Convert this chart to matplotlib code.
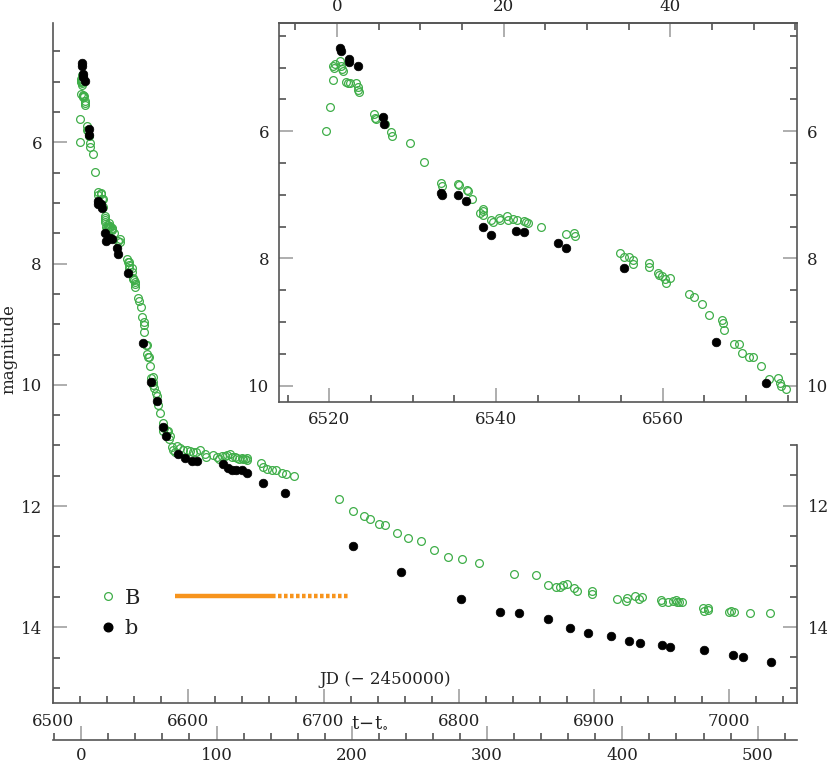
import matplotlib
matplotlib.use("Agg")
import matplotlib.pyplot as plt
from matplotlib.ticker import MultipleLocator
from matplotlib.lines import Line2D

plt.rcParams['font.family'] = ['DejaVu Serif']
plt.rcParams['mathtext.fontset'] = 'dejavuserif'

# ---------------- data ----------------
t0 = 6520.9  # JD - 2450000 of t_0

B_jd = [6519.6, 6520.1, 6520.4, 6520.5, 6520.6, 6520.7, 6521.3, 6521.4, 6521.5, 6521.6,
        6522.0, 6522.3, 6522.5, 6523.2, 6523.4, 6523.5, 6523.6, 6525.4, 6525.5, 6525.6,
        6526.7, 6527.4, 6527.5, 6529.7, 6531.4, 6533.4, 6533.5, 6535.4, 6535.5, 6536.5,
        6536.6, 6537.1, 6538.1, 6538.4, 6538.4, 6538.4, 6539.4, 6539.6, 6540.4, 6540.5,
        6541.3, 6541.4, 6542.0, 6542.5, 6543.4, 6543.6, 6543.8, 6545.4, 6548.4, 6549.4,
        6549.5, 6554.9, 6555.4, 6555.9, 6556.4, 6556.4, 6558.4, 6558.4, 6559.4, 6559.5,
        6559.9, 6560.3, 6560.4, 6560.9, 6563.1, 6563.7, 6564.7, 6565.6, 6567.1, 6567.2,
        6567.4, 6568.6, 6569.2, 6569.5, 6570.4, 6570.8, 6571.8, 6572.8, 6573.8, 6574.1,
        6574.2, 6574.8, 6576.1, 6576.6, 6577.8, 6579.1, 6581.1, 6581.6, 6582.1, 6584.1,
        6585.2, 6586.0, 6586.5, 6587.7, 6588.9, 6590.2, 6591.9, 6593.9, 6596.3, 6598.8,
        6601.2, 6603.2, 6605.7, 6608.7, 6612.4, 6613.1, 6618.5, 6621.5, 6623.0, 6624.7,
        6627.1, 6628.9, 6630.9, 6632.1, 6634.5, 6635.8, 6637.7, 6639.5, 6640.7, 6641.9,
        6643.2, 6643.7, 6653.5, 6655.0, 6658.0, 6661.7, 6664.9, 6669.1, 6672.0, 6678.4,
        6711.2, 6722.0, 6730.1, 6734.3, 6741.2, 6745.4, 6754.1, 6762.2, 6772.0, 6781.9,
        6792.2, 6802.1, 6815.1, 6841.0, 6857.1, 6866.2, 6871.8, 6874.8, 6877.3, 6880.2,
        6885.2, 6887.4, 6898.2, 6898.2, 6917.2, 6923.3, 6924.1, 6930.2, 6933.2, 6935.2,
        6949.2, 6950.4, 6954.9, 6958.6, 6960.3, 6961.5, 6963.0, 6964.8, 6980.3, 6981.3,
        6984.0, 6984.4, 7000.0, 7001.2, 7003.4, 7015.3, 7030.1]
B_mag = [5.99, 5.62, 5.20, 4.98, 5.01, 4.95, 4.89, 4.98, 5.02, 5.06,
         5.22, 5.24, 5.25, 5.24, 5.31, 5.35, 5.38, 5.73, 5.79, 5.81,
         5.89, 6.01, 6.07, 6.19, 6.49, 6.82, 6.86, 6.83, 6.85, 6.93,
         6.94, 7.07, 7.28, 7.22, 7.25, 7.31, 7.39, 7.42, 7.36, 7.39,
         7.33, 7.39, 7.38, 7.40, 7.41, 7.43, 7.45, 7.50, 7.62, 7.60,
         7.64, 7.92, 7.97, 7.97, 8.03, 8.08, 8.07, 8.14, 8.23, 8.26,
         8.27, 8.33, 8.39, 8.30, 8.56, 8.61, 8.72, 8.88, 8.97, 9.01,
         9.13, 9.34, 9.35, 9.49, 9.54, 9.54, 9.69, 9.89, 9.87, 9.95,
         10.00, 10.05, 10.14, 10.18, 10.34, 10.47, 10.63, 10.76, 10.71, 10.77,
         10.76, 10.89, 10.84, 11.03, 11.07, 11.11, 11.01, 11.04, 11.08, 11.07,
         11.10, 11.11, 11.11, 11.08, 11.14, 11.19, 11.15, 11.19, 11.22, 11.18,
         11.18, 11.15, 11.14, 11.19, 11.19, 11.21, 11.23, 11.20, 11.23, 11.22,
         11.24, 11.21, 11.29, 11.36, 11.39, 11.40, 11.40, 11.45, 11.47, 11.50,
         11.89, 12.09, 12.17, 12.21, 12.30, 12.32, 12.44, 12.52, 12.58, 12.73,
         12.84, 12.87, 12.94, 13.12, 13.13, 13.30, 13.33, 13.33, 13.31, 13.29,
         13.36, 13.41, 13.40, 13.45, 13.53, 13.56, 13.51, 13.49, 13.54, 13.50,
         13.55, 13.58, 13.59, 13.57, 13.55, 13.58, 13.59, 13.59, 13.69, 13.73,
         13.72, 13.69, 13.75, 13.73, 13.75, 13.77, 13.77]

b_jd = [6521.3, 6521.4, 6522.4, 6522.4, 6523.4, 6526.4, 6526.5, 6533.4, 6533.5, 6535.4,
        6536.4, 6538.4, 6539.4, 6542.4, 6543.4, 6547.4, 6548.4, 6555.4, 6566.4, 6572.4,
        6576.7, 6581.5, 6583.5, 6592.7, 6597.6, 6603.0, 6606.2, 6625.4, 6629.6, 6632.6,
        6635.1, 6639.5, 6643.7, 6655.0, 6671.7, 6722.0, 6757.3, 6801.4, 6830.2, 6844.3,
        6866.2, 6882.2, 6895.3, 6912.3, 6926.0, 6933.9, 6950.0, 6956.1, 6981.3, 7002.9,
        7009.9, 7030.8]
b_mag = [4.69, 4.74, 4.87, 4.92, 4.98, 5.78, 5.88, 6.97, 7.01, 7.01,
         7.09, 7.50, 7.63, 7.57, 7.59, 7.75, 7.84, 8.15, 9.31, 9.96,
         10.27, 10.69, 10.84, 11.14, 11.21, 11.26, 11.26, 11.30, 11.37, 11.41,
         11.40, 11.40, 11.46, 11.62, 11.79, 12.66, 13.09, 13.54, 13.75, 13.77,
         13.87, 14.02, 14.09, 14.15, 14.23, 14.26, 14.29, 14.33, 14.38, 14.46,
         14.49, 14.57]

# orange bar (solid + dotted part)
bar_solid = [6590.2, 6661.9]
bar_dotted = [6661.9, 6718.3]
bar_mag = 13.48

# ---------------- style ----------------
GREEN = '#3fae49'
ORANGE = '#f7941d'
SPINE = '#555555'
TXT = '#222222'
FS = 12

fig = plt.figure(figsize=(8.28, 7.65), dpi=100)

L, R = 53 / 828, 797 / 828
Bm, Tm = 1 - 703 / 765, 1 - 23 / 765
ax = fig.add_axes([L, Bm, R - L, Tm - Bm])


def style_ticks(a, axis='both', pad=7):
    a.tick_params(axis=axis, which='both', direction='in', labelsize=FS,
                  labelcolor=TXT, pad=pad)
    a.tick_params(axis=axis, which='major', length=10, width=1.1, color='#999999')
    a.tick_params(axis=axis, which='minor', length=5, width=1.1, color='#444444')


def draw_points(a, xmax=None):
    bj, bm = B_jd, B_mag
    kj, km = b_jd, b_mag
    if xmax is not None:
        bj, bm = zip(*[(x, y) for x, y in zip(B_jd, B_mag) if x <= xmax])
        kj, km = zip(*[(x, y) for x, y in zip(b_jd, b_mag) if x <= xmax])
    a.plot(bj, bm, 'o', ms=5.6, mfc='none', mec=GREEN, mew=0.9, zorder=3)
    a.plot(kj, km, 'o', ms=6.2, mfc='black', mec='black', mew=0.5, zorder=4)


# ---------- main axes ----------
draw_points(ax)
ax.plot(bar_solid, [bar_mag, bar_mag], '-', color=ORANGE, lw=3.2,
        solid_capstyle='butt', zorder=2)
ax.plot(bar_dotted, [bar_mag, bar_mag], color=ORANGE, lw=3.2,
        linestyle=(0, (0.8, 0.55)), dash_capstyle='butt', zorder=2)

ax.set_xlim(6500, 7050)
ax.set_ylim(15.25, 4.03)
for s in ('top', 'right'):
    ax.spines[s].set_visible(False)
for s in ('left', 'bottom'):
    ax.spines[s].set_color(SPINE)
    ax.spines[s].set_linewidth(1.2)
ax.xaxis.set_major_locator(MultipleLocator(100))
ax.xaxis.set_minor_locator(MultipleLocator(20))
ax.yaxis.set_major_locator(MultipleLocator(2))
ax.yaxis.set_minor_locator(MultipleLocator(0.5))
ax.yaxis.set_major_formatter(lambda v, p: f'{v:.0f}')
style_ticks(ax, 'x', pad=7)
style_ticks(ax, 'y', pad=8)
ax.set_ylabel('magnitude', fontsize=FS, color=TXT)
ax.yaxis.set_label_coords(-0.048, 0.52)
ax.text(0.446, 0.034, 'JD (\u2212 2450000)', transform=ax.transAxes,
        ha='center', va='center', fontsize=FS, color=TXT)

# secondary x axis: t - t0
sec = ax.secondary_xaxis(-37 / 680, functions=(lambda x: x - t0, lambda x: x + t0))
sec.spines['bottom'].set_color(SPINE)
sec.spines['bottom'].set_linewidth(1.2)
sec.xaxis.set_major_locator(MultipleLocator(100))
sec.xaxis.set_minor_locator(MultipleLocator(20))
style_ticks(sec, 'x', pad=5)
fig.text(370 / 828, 1 - 722 / 765, r'$\mathrm{t\!-\!t_{\circ}}$', ha='center',
         va='center', fontsize=FS + 1, color=TXT)

# legend
handles = [Line2D([], [], ls='none', marker='o', ms=5.6, mfc='none', mec=GREEN, mew=0.9),
           Line2D([], [], ls='none', marker='o', ms=6.2, mfc='black', mec='black')]
ax.legend(handles, ['B', 'b'], loc='center left', bbox_to_anchor=(0.0595, 0.1320),
          frameon=False, fontsize=15, handlelength=1.0, handletextpad=0.3,
          labelspacing=0.55, borderpad=0, borderaxespad=0, labelcolor=TXT)

# right spine of main (only below the inset)
Br = Bm
Tr = 1 - 445 / 765
axr = fig.add_axes([L, Br, R - L, Tr - Br], sharex=ax)
axr.patch.set_visible(False)
for s in ('top', 'left', 'bottom'):
    axr.spines[s].set_visible(False)
axr.spines['right'].set_color(SPINE)
axr.spines['right'].set_linewidth(1.2)
axr.set_ylim(15.25, 11.0)
axr.yaxis.tick_right()
axr.yaxis.set_major_locator(MultipleLocator(2))
axr.yaxis.set_minor_locator(MultipleLocator(0.5))
axr.yaxis.set_major_formatter(lambda v, p: f'{v:.0f}')
axr.xaxis.set_visible(False)
style_ticks(axr, 'y', pad=8)

# ---------- inset ----------
iL = 279.3 / 828
iB = 1 - 401.7 / 765
ins_xlim = (6514.0, 6576.1)
ins = fig.add_axes([iL, iB, R - iL, Tm - iB])
ins.set_facecolor('white')
draw_points(ins, xmax=ins_xlim[1] - 0.5)
ins.set_xlim(*ins_xlim)
ins.set_ylim(10.25, 4.3)
for s in ins.spines.values():
    s.set_color(SPINE)
    s.set_linewidth(1.2)
ins.xaxis.set_major_locator(MultipleLocator(20))
ins.xaxis.set_minor_locator(MultipleLocator(5))
ins.yaxis.set_major_locator(MultipleLocator(2))
ins.yaxis.set_minor_locator(MultipleLocator(0.5))
ins.yaxis.set_major_formatter(lambda v, p: f'{v:.0f}')
ins.tick_params(axis='y', which='both', left=True, right=True, labelleft=True,
                labelright=True)
ins.tick_params(axis='x', which='both', bottom=True, top=False)
style_ticks(ins, 'both', pad=7)
isec = ins.secondary_xaxis('top', functions=(lambda x: x - t0, lambda x: x + t0))
isec.spines['top'].set_color(SPINE)
isec.spines['top'].set_linewidth(1.2)
isec.xaxis.set_major_locator(MultipleLocator(20))
isec.xaxis.set_minor_locator(MultipleLocator(5))
style_ticks(isec, 'x', pad=6)

fig.savefig('out.png', dpi=100)
